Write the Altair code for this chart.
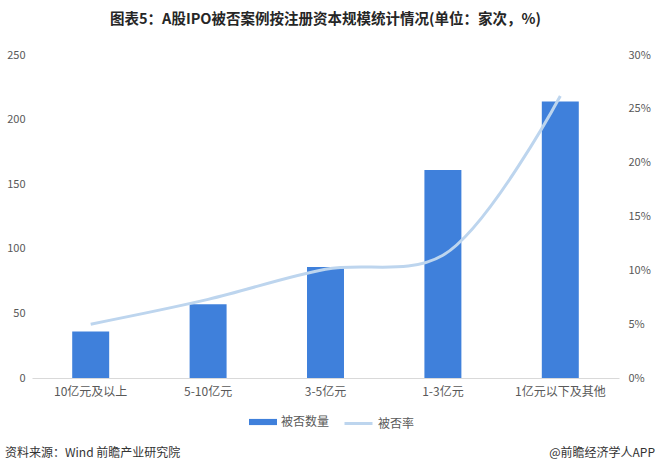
import altair as alt
import pandas as pd

categories = ["10亿元及以上", "5-10亿元", "3-5亿元", "1-3亿元", "1亿元以下及其他"]
counts = [36, 57, 86, 161, 214]
rates = [0.050, 0.073, 0.101, 0.114, 0.262]
series_bar = "被否数量"
series_line = "被否率"
title_text = "图表5：A股IPO被否案例按注册资本规模统计情况(单位：家次，%)"
source_text = "资料来源：Wind 前瞻产业研究院"
brand_text = "@前瞻经济学人APP"

FONT = "Noto Sans CJK SC"
BLUE = "#3F80DB"
LIGHT = "#BDD5EE"
GRAY = "#595959"

df = pd.DataFrame({
    "category": categories,
    "count": counts,
    "rate": rates,
    "s1": [series_bar] * len(categories),
    "s2": [series_line] * len(categories),
})

xenc = alt.X(
    "category:N", sort=categories, title=None,
    scale=alt.Scale(paddingInner=0.685, paddingOuter=0.3425),
    axis=alt.Axis(labelAngle=0, ticks=False, domainColor="#D9D9D9", domainWidth=1,
                  labelColor=GRAY, labelFontSize=12, labelFont=FONT, labelPadding=8, grid=False),
)

base = alt.Chart(df)

bars = base.mark_bar(color=BLUE).encode(
    x=xenc,
    y=alt.Y("count:Q", title=None,
            scale=alt.Scale(domain=[0, 250], nice=False),
            axis=alt.Axis(values=[0, 50, 100, 150, 200, 250], orient="left", ticks=False, domain=False,
                          grid=False, labelColor=GRAY, labelFontSize=11, labelFont=FONT, labelPadding=7)),
    color=alt.Color("s1:N", scale=alt.Scale(domain=[series_bar], range=[BLUE]),
                    legend=alt.Legend(title=None, orient="none", legendX=217, legendY=353,
                                      symbolType="M-1,-0.22L1,-0.22L1,0.22L-1,0.22Z", symbolSize=784,
                                      symbolStrokeWidth=0, labelFontSize=12, labelColor=GRAY,
                                      labelFont=FONT, padding=0, labelOffset=4)),
)

line = base.mark_line(interpolate="catmull-rom", strokeWidth=3, color=LIGHT).encode(
    x=xenc,
    y=alt.Y("rate:Q", title=None,
            scale=alt.Scale(domain=[0, 0.30], nice=False),
            axis=alt.Axis(values=[0, 0.05, 0.10, 0.15, 0.20, 0.25, 0.30], format=".0%", orient="right",
                          ticks=False, domain=False, grid=False, labelColor=GRAY, labelFontSize=11,
                          labelFont=FONT, labelPadding=9)),
    color=alt.Color("s2:N", scale=alt.Scale(domain=[series_line], range=[LIGHT]),
                    legend=alt.Legend(title=None, orient="none", legendX=311, legendY=353,
                                      symbolType="stroke", symbolSize=784, symbolStrokeWidth=3,
                                      labelFontSize=12, labelColor=GRAY, labelFont=FONT,
                                      padding=0, labelOffset=4)),
)

src = alt.Chart(pd.DataFrame({"t": [source_text]})).mark_text(
    align="left", baseline="middle", fontSize=12, font=FONT, color="#333333"
).encode(text="t:N", x=alt.value(-27), y=alt.value(398))

brand = alt.Chart(pd.DataFrame({"t": [brand_text]})).mark_text(
    align="right", baseline="middle", fontSize=12, font=FONT, color="#333333"
).encode(text="t:N", x=alt.value(623), y=alt.value(398))

chart = alt.layer(bars, line, src, brand).resolve_scale(
    y="independent", color="independent"
).resolve_legend(color="independent").properties(
    width=587, height=323,
    background="white",
    title=alt.TitleParams(title_text, anchor="middle", fontSize=14.5, fontWeight="bold",
                          font=FONT, color="#262626", offset=22),
    autosize=alt.AutoSizeParams(type="none"),
    padding={"left": 32, "top": 55, "right": 39, "bottom": 98},
).configure_view(strokeWidth=0)

chart.save("out.html", embed_options={"renderer": "svg", "actions": False})
